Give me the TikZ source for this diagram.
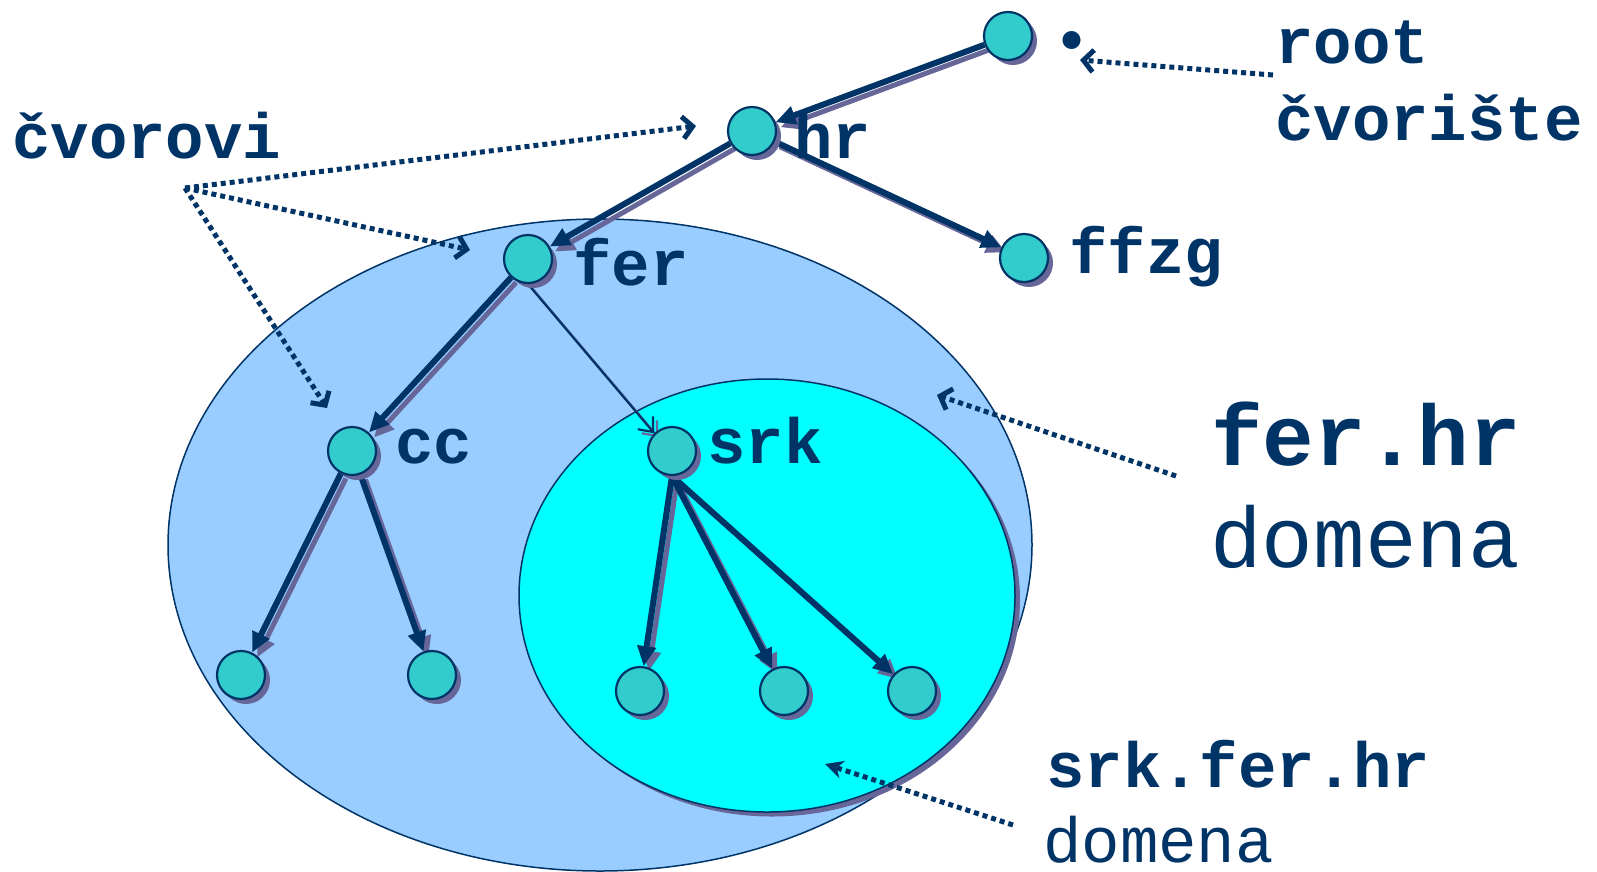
\documentclass[tikz,border=0pt]{standalone}
\usepackage{fontspec}
\newfontfamily\cour{Liberation Mono}
\usetikzlibrary{arrows.meta,shadows}
\definecolor{navy}{HTML}{003366}
\definecolor{shad}{HTML}{666699}
\definecolor{vfill}{HTML}{33CCCC}
\definecolor{lblue}{HTML}{99CCFF}
\definecolor{cyanf}{HTML}{00FFFF}
\pgfdeclarelayer{bg}
\pgfdeclarelayer{edges}
\pgfsetlayers{bg,edges,main}
\tikzset{
  vert/.style={circle, draw=navy, line width=2.2pt, fill=vfill, minimum size=48pt, inner sep=0pt,
    drop shadow={shadow xshift=5pt, shadow yshift=-5pt, fill=shad, opacity=1}},
  lbl/.style={anchor=base west, inner sep=0pt, text=navy, font={\cour\bfseries\fontsize{64}{70}\selectfont}},
  dotlbl/.style={anchor=base west, inner sep=0pt, text=navy, rotate=180, font={\rmfamily\bfseries\fontsize{125}{125}\selectfont}},
  biglbl/.style={anchor=base west, inner sep=0pt, text=navy, font={\cour\bfseries\fontsize{86}{92}\selectfont}},
  bigreg/.style={anchor=base west, inner sep=0pt, text=navy, font={\cour\fontsize{86}{92}\selectfont}},
  smallreg/.style={anchor=base west, inner sep=0pt, text=navy, font={\cour\fontsize{64}{70}\selectfont}},
  edge/.style={line width=6pt, draw=navy, -{Triangle[length=20pt,width=18pt]}},
  eshadow/.style={line width=5pt, draw=shad, -{Triangle[length=20pt,width=18pt]}, transform canvas={shift={(5pt,-5pt)}}},
  thinedge/.style={line width=2.2pt, draw=navy, -{Straight Barb[length=12pt,width=20pt]}},
  thinshadow/.style={line width=2.2pt, draw=shad, -{Straight Barb[length=12pt,width=20pt]}, transform canvas={shift={(4pt,-4pt)}}},
  dots/.style={draw=navy, line width=5pt, dash pattern=on 5pt off 4pt, -{Straight Barb[length=10pt,width=22pt]}},
  dotsfill/.style={draw=navy, line width=5pt, dash pattern=on 5pt off 4pt, -{Stealth[length=18pt,width=18pt]}}
}
\begin{document}
\begin{tikzpicture}[x=1pt,y=-1pt]
\useasboundingbox (0,0) rectangle (1597,871);

% domains
\begin{pgfonlayer}{bg}
  \path[fill=lblue, draw=navy, line width=1.5pt] (600,545) ellipse [x radius=432, y radius=326];
  \path[fill=shad] (772,600) ellipse [x radius=248, y radius=216.5];
  \path[fill=cyanf, draw=navy, line width=1.5pt] (767,595.5) ellipse [x radius=248, y radius=216.5];
\end{pgfonlayer}

% vertices
\node[vert] (root) at (1008,36) {};
\node[vert] (hr) at (752,131) {};
\node[vert] (ffzg) at (1024,258) {};
\node[vert] (fer) at (528,259) {};
\node[vert] (cc) at (352,451) {};
\node[vert] (srk) at (672,451) {};
\node[vert] (c1) at (241,675) {};
\node[vert] (c2) at (432,675) {};
\node[vert] (s1) at (640,691) {};
\node[vert] (s2) at (784,691) {};
\node[vert] (s3) at (912,691) {};

% tree edges
\begin{pgfonlayer}{edges}
  \foreach \a/\b in {root/hr, hr/fer, hr/ffzg, fer/cc, cc/c1, cc/c2}{
    \draw[eshadow] (\a) -- (\b);
  }
  \foreach \b in {s1,s2,s3}{
    \draw[eshadow] (srk.south) -- (\b);
  }
  \draw[thinshadow] (fer.south) -- (srk.135);
  \foreach \a/\b in {root/hr, hr/fer, hr/ffzg, fer/cc, cc/c1, cc/c2}{
    \draw[edge] (\a) -- (\b);
  }
  \foreach \b in {s1,s2,s3}{
    \draw[edge] (srk.south) -- (\b);
  }
  \draw[thinedge] (fer.south) -- (srk.135);
\end{pgfonlayer}

% labels
\node[dotlbl] (dot) at (1092,31) {.};
\node[lbl] (lroot) at (1275,63) {root};
\node[lbl] (lcvoriste) at (1275,140) {čvorište};
\node[lbl] (lcvorovi) at (12,158) {čvorovi};
\node[lbl] (lhr) at (794,158) {hr};
\node[lbl] (lfer) at (573,285) {fer};
\node[lbl] (lffzg) at (1069,273) {ffzg};
\node[lbl] (lcc) at (395,463) {cc};
\node[lbl] (lsrk) at (707,463) {srk};
\node[biglbl] (lferhr) at (1211,465) {fer.hr};
\node[bigreg] (ldom1) at (1210,567) {domena};
\node[lbl] (lsrkfer) at (1046,787) {srk.fer.hr};
\node[smallreg] (ldom2) at (1043,862) {domena};

% annotation arrows
\coordinate (cvo) at (185,188);
\coordinate (thr) at (696,126);
\coordinate (tfer) at (470,250);
\coordinate (tcc) at (327,408);
\coordinate (rs) at (1273,75);
\coordinate (rt) at (1080,60);
\coordinate (fs) at (1176,476);
\coordinate (ft) at (937,395);
\coordinate (ss) at (1013,825);
\coordinate (st) at (825,764);
\draw[dots] (cvo) -- (thr);
\draw[dots] (cvo) -- (tfer);
\draw[dots] (cvo) -- (tcc);
\draw[dots] (rs) -- (rt);
\draw[dots] (fs) -- (ft);
\draw[dotsfill] (ss) -- (st);
\end{tikzpicture}
\end{document}
